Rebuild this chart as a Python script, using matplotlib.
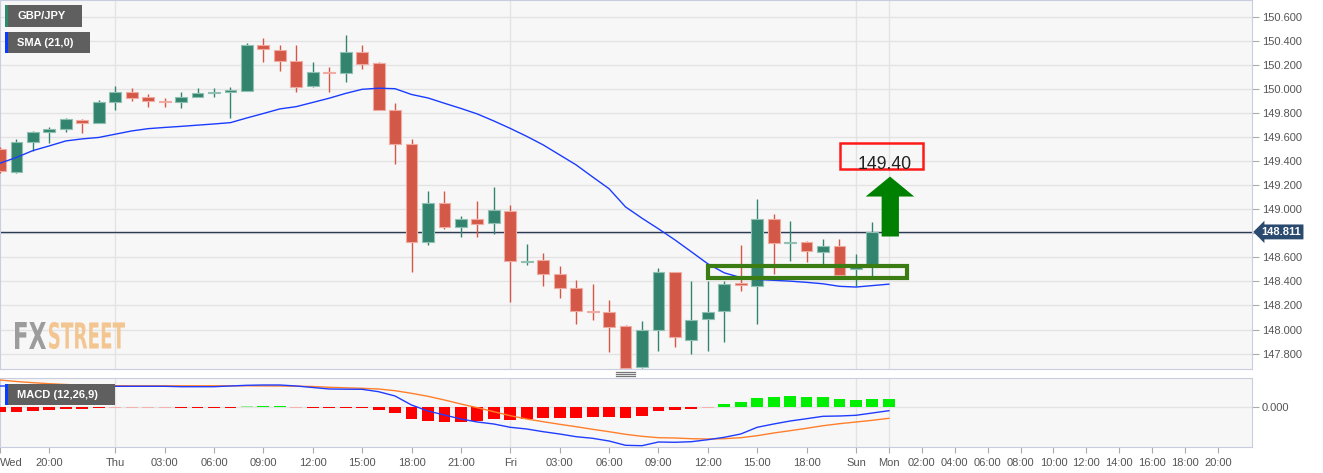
import numpy as np
import matplotlib.pyplot as plt
from matplotlib.patches import Rectangle, Polygon, PathPatch
from matplotlib.textpath import TextPath
from matplotlib.font_manager import FontProperties
from matplotlib.transforms import Affine2D, blended_transform_factory

plt.rcParams['font.family'] = ['Liberation Sans', 'DejaVu Sans']

# hourly bars, index 0 = Thu 00:00
first_bar = -7
opens = [149.50, 149.31, 149.56, 149.64, 149.67, 149.74, 149.72, 149.89, 149.97, 149.93,
         149.90, 149.89, 149.935, 149.968, 149.974, 149.985, 150.364, 150.323, 150.234, 150.024,
         150.14, 150.134, 150.309, 150.212, 149.825, 149.54, 148.726, 149.052, 148.853, 148.922,
         148.881, 148.986, 148.565, 148.579, 148.46, 148.349, 148.156, 148.145, 148.031, 147.69,
         147.998, 148.477, 147.909, 148.089, 148.153, 148.386, 148.363, 148.92, 148.715, 148.726,
         148.648, 148.693, 148.502, 148.519]
highs = [149.52, 149.58, 149.65, 149.68, 149.76, 149.75, 149.905, 150.02, 150.01, 149.955,
         149.92, 149.97, 150.01, 150.01, 150.018, 150.378, 150.42, 150.364, 150.364, 150.22,
         150.184, 150.447, 150.364, 150.226, 149.88, 149.584, 149.15, 149.15, 148.945, 149.069,
         149.183, 149.036, 148.712, 148.635, 148.53, 148.413, 148.378, 148.247, 148.035, 148.069,
         148.51, 148.48, 148.405, 148.405, 148.405, 148.704, 149.086, 148.961, 148.90, 148.737,
         148.754, 148.754, 148.629, 148.892]
lows = [149.30, 149.30, 149.48, 149.55, 149.64, 149.63, 149.715, 149.82, 149.90, 149.85,
        149.85, 149.84, 149.93, 149.935, 149.756, 149.98, 150.22, 150.15, 149.976, 150.018,
        149.976, 150.055, 150.162, 149.82, 149.374, 148.482, 148.704, 148.834, 148.768, 148.768,
        148.793, 148.225, 148.532, 148.358, 148.266, 148.045, 148.075, 147.813, 147.672, 147.68,
        147.818, 147.855, 147.80, 147.818, 147.90, 148.322, 148.045, 148.46, 148.573, 148.56,
        148.524, 148.441, 148.358, 148.441]
closes = [149.32, 149.56, 149.64, 149.67, 149.75, 149.72, 149.89, 149.97, 149.92, 149.90,
          149.89, 149.935, 149.966, 149.976, 149.99, 150.367, 150.33, 150.234, 150.018, 150.138,
          150.13, 150.306, 150.209, 149.825, 149.542, 148.726, 149.055, 148.851, 148.922, 148.876,
          148.992, 148.571, 148.573, 148.463, 148.349, 148.156, 148.145, 148.025, 147.68, 147.998,
          148.48, 147.942, 148.081, 148.148, 148.38, 148.366, 148.922, 148.718, 148.726, 148.654,
          148.696, 148.455, 148.519, 148.811]

# indicators (one more point than the candles)
sma = [149.382, 149.43, 149.487, 149.526, 149.567, 149.584, 149.596, 149.623, 149.65, 149.669,
       149.679, 149.688, 149.698, 149.708, 149.719, 149.758, 149.795, 149.833, 149.852, 149.887,
       149.922, 149.962, 149.996, 150.005, 150.001, 149.953, 149.924, 149.88, 149.837, 149.791,
       149.733, 149.671, 149.605, 149.534, 149.451, 149.368, 149.268, 149.17, 149.019, 148.925,
       148.837, 148.745, 148.646, 148.546, 148.471, 148.432, 148.416, 148.409, 148.402, 148.392,
       148.38, 148.359, 148.353, 148.365, 148.377]
macd = [0.21, 0.21, 0.21, 0.21, 0.21, 0.21, 0.21, 0.207, 0.207, 0.207,
        0.207, 0.203, 0.203, 0.203, 0.21, 0.217, 0.22, 0.22, 0.21, 0.195,
        0.18, 0.178, 0.177, 0.153, 0.11, 0.02, -0.04, -0.08, -0.12, -0.15,
        -0.17, -0.203, -0.22, -0.247, -0.27, -0.297, -0.313, -0.34, -0.383, -0.387,
        -0.35, -0.353, -0.347, -0.327, -0.303, -0.27, -0.203, -0.17, -0.14, -0.117,
        -0.093, -0.09, -0.083, -0.06, -0.037]
signal = [0.27, 0.255, 0.243, 0.233, 0.225, 0.219, 0.215, 0.213, 0.212, 0.212,
          0.212, 0.212, 0.212, 0.212, 0.212, 0.212, 0.211, 0.21, 0.208, 0.205,
          0.197, 0.192, 0.187, 0.18, 0.163, 0.137, 0.107, 0.07, 0.03, -0.007,
          -0.047, -0.087, -0.12, -0.147, -0.173, -0.197, -0.223, -0.247, -0.273, -0.293,
          -0.307, -0.31, -0.317, -0.32, -0.317, -0.307, -0.287, -0.26, -0.237, -0.213,
          -0.187, -0.167, -0.15, -0.133, -0.113]
hist = [-0.05, -0.045, -0.037, -0.028, -0.022, -0.017, -0.013, -0.007, -0.007, -0.006,
        -0.006, -0.010, -0.010, -0.010, -0.010, 0.006, 0.012, 0.012, -0.005, -0.012,
        -0.012, -0.010, -0.010, -0.030, -0.063, -0.120, -0.137, -0.153, -0.147, -0.140,
        -0.120, -0.127, -0.120, -0.113, -0.113, -0.110, -0.103, -0.100, -0.110, -0.087,
        -0.037, -0.033, -0.017, -0.007, 0.027, 0.047, 0.087, 0.100, 0.107, 0.100,
        0.097, 0.080, 0.070, 0.077, 0.080]

tick_pos = [-7, -4, 0, 3, 6, 9, 12, 15, 18, 21, 24, 27, 30, 33, 36, 39, 42, 45, 47,
            49, 51, 53, 55, 57, 59, 61, 63, 65, 67]
tick_lbl = ['Wed', '20:00', 'Thu', '03:00', '06:00', '09:00', '12:00', '15:00', '18:00', '21:00',
            'Fri', '03:00', '06:00', '09:00', '12:00', '15:00', '18:00', 'Sun', 'Mon',
            '02:00', '04:00', '06:00', '08:00', '10:00', '12:00', '14:00', '16:00', '18:00', '20:00']
day_names = ['Wed', 'Thu', 'Fri', 'Sat', 'Sun', 'Mon']

target_level = 149.40

opens, highs, lows, closes = map(np.array, (opens, highs, lows, closes))
bars = np.arange(first_bar, first_bar + len(opens))
ind_x = np.arange(first_bar, first_bar + len(sma))

W, H = 1323, 473
fig = plt.figure(figsize=(W / 100, H / 100), dpi=100)


def px_axes(x0, y0, x1, y1):
    return fig.add_axes([x0 / W, 1 - y1 / H, (x1 - x0) / W, (y1 - y0) / H])


ax = px_axes(0, 0, 1252, 369)
axm = px_axes(0, 378, 1252, 447)
xlim = (-7.0, 69.06)

for a in (ax, axm):
    a.set_facecolor('#f7f7f7')
    a.set_xlim(*xlim)
    for s in a.spines.values():
        s.set_color('#c8cee0')
    a.yaxis.tick_right()
    a.tick_params(axis='y', length=5, color='#aaaaaa', labelsize=8, labelcolor='#555555', pad=2)
    a.grid(axis='y', color='#e3e3e3', lw=1)
    a.set_axisbelow(True)
    for p, l in zip(tick_pos, tick_lbl):
        if l in day_names and p > xlim[0]:
            a.axvline(p, color='#e3e3e3', lw=1, zorder=0)

# ---- price panel
ax.set_ylim(147.672, 150.738)
ax.set_yticks(np.arange(147.8, 150.61, 0.2))
ax.set_yticklabels(['%.3f' % v for v in np.arange(147.8, 150.61, 0.2)])
ax.set_xticks([])

up = closes >= opens
col = np.where(up, '#33846f', '#d45847')
edge = np.where(up, '#8fc0b2', '#f0aca2')
ax.vlines(bars, lows, highs, colors=col, lw=1, zorder=3)
ax.bar(bars, np.maximum(np.abs(closes - opens), 0.008), bottom=np.minimum(opens, closes),
       width=0.72, color=col, edgecolor=edge, linewidth=0.8, zorder=4)
ax.plot(ind_x, sma, color='#1a3cff', lw=1, zorder=5)

last = closes[-1]
ax.axhline(last, color='#2b3a55', lw=1, zorder=2)
bt = blended_transform_factory(ax.transAxes, ax.transData)
ax.text(1.0075, last, '%.3f' % last, transform=bt, ha='left', va='center', fontsize=8,
        fontweight='bold', color='white', clip_on=False,
        bbox=dict(boxstyle='larrow,pad=0.22', fc='#2b4a70', ec='none'))

# lowest bar marker under the panel
lo_i = bars[np.argmin(lows)]
mt = blended_transform_factory(ax.transData, fig.transFigure)
for yy in (371.8, 374.0, 376.2):
    ax.plot([lo_i - 0.6, lo_i + 0.6], [1 - yy / H] * 2, color='#777777', lw=0.9,
            transform=mt, clip_on=False)

# annotations
ax.add_patch(Rectangle((35.99, 148.427), 12.13, 0.103, fill=False, ec='#3b7d13', lw=3, zorder=6))
ax.add_patch(Polygon([(47.07, 149.271), (48.54, 149.105), (47.61, 149.105), (47.61, 148.773),
                      (46.56, 148.773), (46.56, 149.105), (45.59, 149.105)],
                     closed=True, fc='#008000', ec='none', zorder=6))
ax.add_patch(Rectangle((44.03, 149.332), 5.06, 0.216, fill=False, ec='#ff1a1a', lw=1.8, zorder=6))
ax.text(46.72, 149.336, '%.2f' % target_level, ha='center', va='baseline', fontsize=12.7,
        color='#222222', zorder=7)

# ---- MACD panel
axm.set_ylim(-0.40, 0.29)
axm.set_yticks([0])
axm.set_yticklabels(['0.000'])


def hist_color(v):
    if v < 0:
        return '#ff0000' if v <= -0.009 else '#f5b0b0'
    return '#00ee00' if v >= 0.009 else '#8cf08c'


axm.bar(ind_x, hist, width=0.72, color=[hist_color(v) for v in hist], zorder=3)
axm.plot(ind_x, signal, color='#ff7f2a', lw=1, zorder=4)
axm.plot(ind_x, macd, color='#1f3cff', lw=1, zorder=4)

axm.set_xticks(tick_pos)
axm.set_xticklabels(tick_lbl)
axm.tick_params(axis='x', length=4, color='#aaaaaa', labelsize=8, labelcolor='#555555', pad=4)
axm.get_xticklabels()[0].set_ha('left')


# ---- legend boxes
def label_box(x0, y0, x1, y1, txt, strip):
    fig.add_artist(Rectangle((x0 / W, 1 - y1 / H), (x1 - x0) / W, (y1 - y0) / H,
                             transform=fig.transFigure, fc='#5f5f5f', ec='none', zorder=10))
    fig.add_artist(Rectangle((x0 / W, 1 - y1 / H), 2.5 / W, (y1 - y0) / H,
                             transform=fig.transFigure, fc=strip, ec='none', zorder=11))
    fig.text((x0 + 12) / W, 1 - (y0 + y1) / 2 / H, txt, ha='left', va='center', fontsize=8,
             fontweight='bold', color='white', zorder=12)


label_box(5, 5, 82, 27, 'GBP/JPY', '#2d8a6d')
label_box(5, 32, 90, 53, 'SMA (21,0)', '#0a3cff')
label_box(5, 384, 115, 405, 'MACD (12,26,9)', '#0a3cff')

# ---- watermark
fp = FontProperties(family='DejaVu Sans', weight='bold')


def logo(txt, x0, x1, y0, y1, color):
    tp = TextPath((0, 0), txt, size=10, prop=fp)
    bb = tp.get_extents()
    tr = (Affine2D().translate(-bb.x0, -bb.y0)
          .scale((x1 - x0) / bb.width, (y1 - y0) / bb.height)
          .translate(x0, H - y1).scale(1 / W, 1 / H))
    fig.add_artist(PathPatch(tr.transform_path(tp), fc=color, ec='none',
                             transform=fig.transFigure, zorder=1))


logo('FX', 15, 46, 322, 349, '#9c9c9c')
logo('STREET', 49, 125, 322, 349, '#f3c590')

fig.savefig('out.png', dpi=100, facecolor='white')
